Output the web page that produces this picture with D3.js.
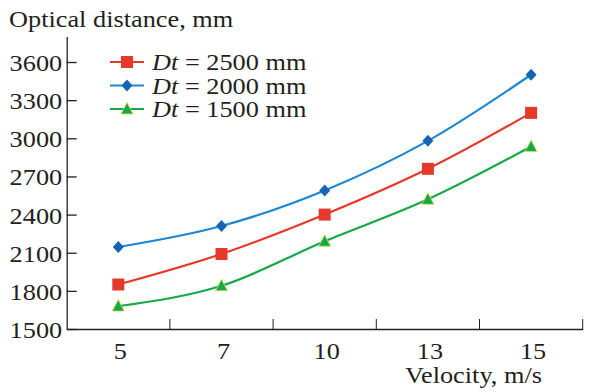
<!DOCTYPE html>
<html>
<head>
<meta charset="utf-8">
<script src="https://cdn.jsdelivr.net/npm/d3@7"></script>
<style>
  body { margin: 0; background: #fff; }
  text { font-family: "Liberation Serif", "Times New Roman", serif; fill: #231f20; }
</style>
</head>
<body>
<div id="chart"></div>
<script>
// values
const velocities = ["5", "7", "10", "13", "15"];
const dt2500 = [1850, 2090, 2400, 2760, 3200];
const dt2000 = [2145, 2310, 2590, 2980, 3500];
const dt1500 = [1680, 1840, 2190, 2520, 2935];
const yTicks = [1500, 1800, 2100, 2400, 2700, 3000, 3300, 3600];
const seriesNames = ["2500", "2000", "1500"];

const W = 608, H = 392;
const fs = 23.5;
const stretch = "scale(1.12,1)";  // the source type looks horizontally stretched

let svg = d3.select("#chart").append("svg")
    .attr("width", W)
    .attr("height", H);

let x = d3.scaleBand().domain(velocities).range([66.7, 582.7]);
let y = d3.scaleLinear().domain([1500, 3800]).range([329, 36.6]);

// y axis, ticks point inward
let yAxis = svg.append("g")
    .attr("transform", "translate(66.7,0)")
    .call(d3.axisLeft(y).tickValues(yTicks).tickFormat(d3.format("d"))
        .tickSizeInner(-10).tickSizeOuter(0).tickPadding(4));
yAxis.selectAll("text").attr("font-size", fs).attr("transform", stretch).attr("dy", "0.36em");

// x axis: labels at band centres, tick marks at band edges
let xAxis = svg.append("g")
    .attr("transform", "translate(0,329)")
    .call(d3.axisBottom(x).tickSize(0).tickPadding(13));
xAxis.selectAll("text").attr("font-size", fs).attr("transform", stretch).attr("dy", "0.72em");
xAxis.selectAll(".tick").attr("transform", d => "translate(" + (x(d) + x.bandwidth() / 2 + 2) + ",0)");

svg.append("g").selectAll("line")
    .data(velocities)
    .join("line")
    .attr("x1", d => x(d) + x.bandwidth())
    .attr("x2", d => x(d) + x.bandwidth())
    .attr("y1", y(1500))
    .attr("y2", y(1500) - 10)
    .attr("stroke", "#231f20");

svg.selectAll(".domain, .tick line").attr("stroke", "#231f20").attr("stroke-width", 1.3);

// axis titles
svg.append("g").attr("transform", "translate(9,27)")
    .append("text").attr("font-size", fs).attr("transform", stretch)
    .text("Optical distance, mm");
svg.append("g").attr("transform", "translate(542,383)")
    .append("text").attr("font-size", fs).attr("text-anchor", "end").attr("transform", stretch)
    .text("Velocity, m/s");

// series
let series = [
    { name: seriesNames[0], vals: dt2500, color: "#e5392b", mark: "square" },
    { name: seriesNames[1], vals: dt2000, color: "#1d87d0", mark: "diamond" },
    { name: seriesNames[2], vals: dt1500, color: "#17a84a", mark: "triangle" }
];

const cx = d => x(d) + x.bandwidth() / 2;

let line = d3.line()
    .x((v, i) => cx(velocities[i]))
    .y(v => y(v))
    .curve(d3.curveMonotoneX);

function marker(sel, s) {
    if (s.mark === "square") {
        sel.append("rect").attr("x", -6).attr("y", -6).attr("width", 12).attr("height", 12)
            .attr("fill", s.color);
    } else if (s.mark === "diamond") {
        sel.append("path").attr("d", "M0,-6L5.5,0L0,6L-5.5,0Z").attr("fill", "#1565b3");
    } else {
        sel.append("path").attr("d", "M0,-6.5L6,5L-6,5Z").attr("fill", s.color)
            .attr("stroke", "#d8e04a").attr("stroke-width", 0.8);
    }
}

for (let s of series) {
    svg.append("path")
        .datum(s.vals)
        .attr("d", line)
        .attr("fill", "none")
        .attr("stroke", s.color)
        .attr("stroke-width", 2.2);
    s.vals.forEach((v, i) => {
        let g = svg.append("g").attr("transform", "translate(" + cx(velocities[i]) + "," + y(v) + ")");
        marker(g, s);
    });
}

// legend
let legend = svg.append("g").attr("transform", "translate(110,62)");
series.forEach((s, i) => {
    let row = legend.append("g").attr("transform", "translate(0," + (i * 23.5) + ")");
    row.append("line").attr("x1", 0).attr("x2", 34).attr("stroke", s.color).attr("stroke-width", 2.2);
    marker(row.append("g").attr("transform", "translate(17,0)"), s);
    let t = row.append("g").attr("transform", "translate(42,8)")
        .append("text").attr("font-size", fs).attr("transform", stretch);
    t.append("tspan").attr("font-style", "italic").text("Dt");
    t.append("tspan").text(" = " + s.name + " mm");
});
</script>
</body>
</html>
